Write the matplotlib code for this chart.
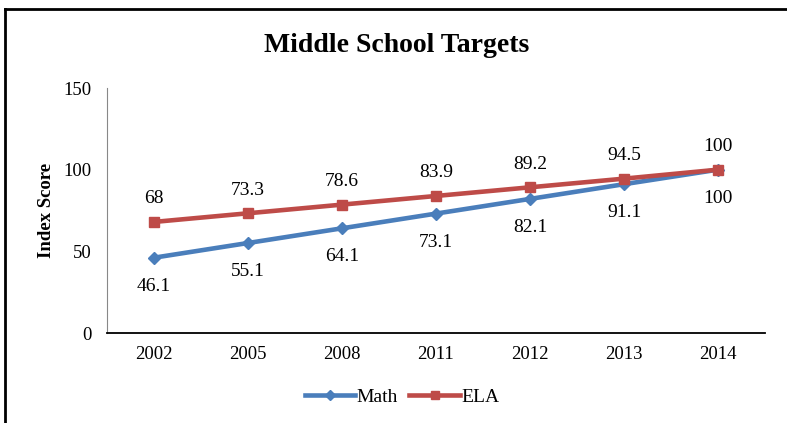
import matplotlib
matplotlib.use("Agg")
import matplotlib.pyplot as plt
from matplotlib.lines import Line2D

years = ["2002", "2005", "2008", "2011", "2012", "2013", "2014"]
math_vals = [46.1, 55.1, 64.1, 73.1, 82.1, 91.1, 100]
ela_vals = [68, 73.3, 78.6, 83.9, 89.2, 94.5, 100]
math_labels = ["46.1", "55.1", "64.1", "73.1", "82.1", "91.1", "100"]
ela_labels = ["68", "73.3", "78.6", "83.9", "89.2", "94.5", "100"]

plt.rcParams['font.family'] = ['Liberation Serif', 'DejaVu Serif']

fig = plt.figure(figsize=(7.87, 4.23), dpi=100)
ax = fig.add_axes([107/787, 1-333/423, (765-107)/787, (333-88)/423])

blue = "#4A7EBB"
red = "#BE4B48"
x = list(range(len(years)))
ax.plot(x, math_vals, color=blue, lw=3.3, marker='D', ms=6, label="Math", zorder=3)
ax.plot(x, ela_vals, color=red, lw=3.3, marker='s', ms=6.5, label="ELA", zorder=4)

for i in x:
    ax.annotate(ela_labels[i], (i, ela_vals[i]), xytext=(0, 10.5), textcoords='offset points',
                ha='center', va='bottom', fontsize=14)
    ax.annotate(math_labels[i], (i, math_vals[i]), xytext=(0, -14.5), textcoords='offset points',
                ha='center', va='top', fontsize=14)

ax.set_xlim(-0.5, len(years) - 0.5)
ax.set_ylim(0, 150)
ax.set_yticks([0, 50, 100, 150])
ax.set_xticks(x)
ax.set_xticklabels(years)
ax.tick_params(axis='x', length=0, labelsize=13.5, pad=9)
ax.tick_params(axis='y', length=0, labelsize=13.5, pad=11)
for s in ['top', 'right']:
    ax.spines[s].set_visible(False)
ax.spines['left'].set_color('#888888')
ax.spines['bottom'].set_color('black')
ax.spines['bottom'].set_linewidth(1.3)
ax.set_ylabel("Index Score", fontsize=13.5, fontweight='bold', labelpad=6)

fig.text(397/787, 1-45/423, "Middle School Targets", ha='center', va='center',
         fontsize=20, fontweight='bold')

handles = [Line2D([], [], color=blue, lw=3.3, marker='D', ms=5),
           Line2D([], [], color=red, lw=3.3, marker='s', ms=5.5)]
fig.legend(handles, ["Math", "ELA"], loc='center', bbox_to_anchor=(402/787, 1-397/423),
           ncol=2, frameon=False, fontsize=14, handlelength=2.6, columnspacing=0.6,
           handletextpad=0.05)

# partial border (left and top visible)
fig.add_artist(Line2D([5/787, 5/787], [0, 1-9/423], transform=fig.transFigure, color='black', lw=2))
fig.add_artist(Line2D([5/787, 1], [1-9/423, 1-9/423], transform=fig.transFigure, color='black', lw=2))

fig.savefig("out.png", dpi=100)
